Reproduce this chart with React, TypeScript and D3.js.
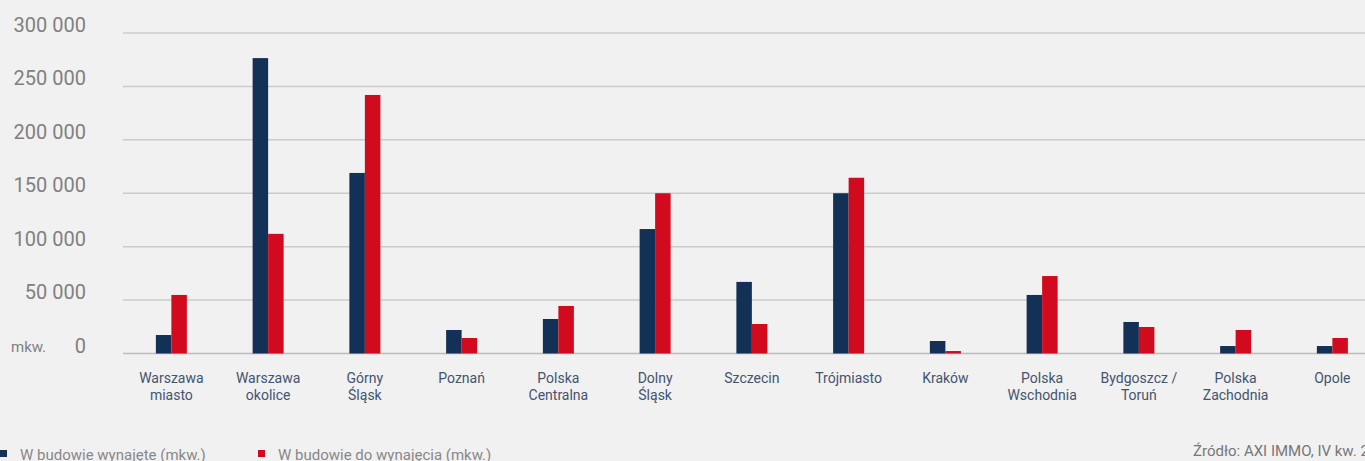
import React from 'react';
import * as d3 from 'd3';

const categories = [
  'Warszawa\nmiasto',
  'Warszawa\nokolice',
  'Górny\nŚląsk',
  'Poznań',
  'Polska\nCentralna',
  'Dolny\nŚląsk',
  'Szczecin',
  'Trójmiasto',
  'Kraków',
  'Polska\nWschodnia',
  'Bydgoszcz /\nToruń',
  'Polska\nZachodnia',
  'Opole',
];
const leased = [17300, 276500, 169000, 22000, 32300, 116500, 67000, 150000, 11700, 54800, 29500, 7000, 7000];
const toLease = [54800, 112000, 242000, 14500, 44500, 150000, 27600, 164500, 2300, 72500, 24800, 22000, 14500];
const yTicks = [0, 50000, 100000, 150000, 200000, 250000, 300000];
const seriesNames = ['W budowie wynajęte (mkw.)', 'W budowie do wynajęcia (mkw.)'];
const source = 'Źródło: AXI IMMO, IV kw. 2022';

const W = 1365;
const H = 461;
const NAVY = '#133056';
const RED = '#d20a1e';
const FONT = 'Roboto, sans-serif';

const fmt = (v: number) => d3.format(',')(v).replace(/,/g, ' ');

export default function App() {
  const x = d3.scaleBand<string>().domain(categories).range([123, 123 + 13 * 96.75]);
  const y = d3.scaleLinear().domain([0, 300000]).range([353.5, 33]);
  const bw = 15.5;

  return (
    <svg width={W} height={H} style={{ position: 'absolute', left: 0, top: 0, background: '#f1f1f1' }}>
      <rect width={W} height={H} fill="#f1f1f1" />
      {yTicks.map((t) => (
        <g key={t}>
          <line x1={123} x2={W} y1={y(t)} y2={y(t)} stroke={t === 0 ? '#bcbcbc' : '#cbcbcb'} strokeWidth={1.5} />
          <text x={86} y={y(t) - 1} textAnchor="end" fontFamily={FONT} fontSize={20} fill="#808080">
            {fmt(t)}
          </text>
        </g>
      ))}
      <text x={11} y={352} fontFamily={FONT} fontSize={15} fill="#808080">mkw.</text>

      {categories.map((c, i) => {
        const cx = (x(c) as number) + x.bandwidth() / 2;
        return (
          <g key={c}>
            <rect x={cx - bw} y={y(leased[i])} width={bw} height={y(0) - y(leased[i])} fill={NAVY} />
            <rect x={cx} y={y(toLease[i])} width={bw} height={y(0) - y(toLease[i])} fill={RED} />
            <text textAnchor="middle" fontFamily={FONT} fontSize={14} fill="#44546f">
              {c.split('\n').map((l, j) => (
                <tspan key={j} x={cx} y={383 + j * 17}>{l}</tspan>
              ))}
            </text>
          </g>
        );
      })}

      <rect x={0} y={450} width={7} height={7} fill={NAVY} />
      <text x={20} y={460} fontFamily={FONT} fontSize={15} fill="#888">{seriesNames[0]}</text>
      <rect x={258} y={450} width={7} height={7} fill={RED} />
      <text x={278} y={460} fontFamily={FONT} fontSize={15} fill="#888">{seriesNames[1]}</text>

      <text x={1193} y={456} fontFamily={FONT} fontSize={15} fill="#777">{source}</text>
    </svg>
  );
}
